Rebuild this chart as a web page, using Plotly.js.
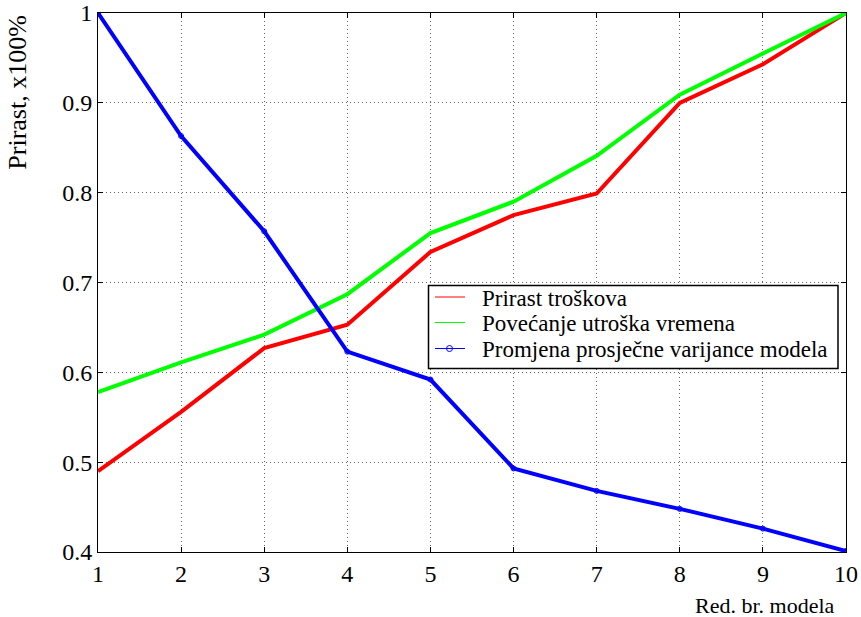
<!DOCTYPE html>
<html>
<head>
<meta charset="utf-8">
<script src="https://cdn.plot.ly/plotly-3.0.1.min.js"></script>
<style>
html,body{margin:0;padding:0;background:#fff;}
#chart{width:861px;height:617px;}
#chart text{font-family:'Liberation Serif', serif !important;}
</style>
</head>
<body>
<div id="chart"></div>
<script>
const modelNo = [1, 2, 3, 4, 5, 6, 7, 8, 9, 10];
const prirastTroskova = [0.490, 0.556, 0.627, 0.653, 0.734, 0.775, 0.799, 0.900, 0.943, 1.000];
const povecanjeUtroska = [0.578, 0.611, 0.642, 0.687, 0.755, 0.790, 0.841, 0.909, 0.955, 1.000];
const promjenaVarijance = [1.000, 0.863, 0.757, 0.623, 0.592, 0.493, 0.468, 0.448, 0.426, 0.401];
const seriesNames = ["Prirast troškova", "Povećanje utroška vremena", "Promjena prosječne varijance modela"];
const seriesColors = ["#ff0000", "#00ff00", "#0000ff"];
const yTicks = [0.4, 0.5, 0.6, 0.7, 0.8, 0.9, 1];
const yTickText = ["0.4", "0.5", "0.6", "0.7", "0.8", "0.9", "1"];

const font = "Liberation Serif";
const traces = [
  {x: modelNo, y: prirastTroskova, name: seriesNames[0], mode: "lines", line: {color: seriesColors[0], width: 4}, showlegend: false, hoverinfo: "skip"},
  {x: modelNo, y: povecanjeUtroska, name: seriesNames[1], mode: "lines", line: {color: seriesColors[1], width: 4}, showlegend: false, hoverinfo: "skip"},
  {x: modelNo, y: promjenaVarijance, name: seriesNames[2], mode: "lines+markers", line: {color: seriesColors[2], width: 4},
   marker: {symbol: "circle-open", size: 5, color: seriesColors[2], line: {width: 1}}, showlegend: false, hoverinfo: "skip"}
];

// Legend box drawn in paper coordinates (plot area: 748 x 539 px)
const px = v => (v - 98) / 748;
const py = v => (552 - v) / 539;
const rowY = [297, 322.5, 348.5];
const shapes = [
  {type: "rect", xref: "paper", yref: "paper", x0: px(428.5), x1: px(838), y0: py(368.5), y1: py(285.5),
   fillcolor: "#fff", line: {color: "#000", width: 1.5}, layer: "above"}
];
const annotations = [
  {text: "Prirast, x100%", xref: "paper", yref: "paper", x: -0.108, y: 1.0, xanchor: "center", yanchor: "top",
   textangle: -90, showarrow: false, font: {family: font, size: 26}},
  {text: "Red. br. modela", xref: "paper", yref: "paper", x: 0.988, y: -0.072, xanchor: "right", yanchor: "top",
   showarrow: false, font: {family: font, size: 22}}
];
seriesNames.forEach((name, i) => {
  shapes.push({type: "line", xref: "paper", yref: "paper", x0: px(435), x1: px(465), y0: py(rowY[i]), y1: py(rowY[i]),
    line: {color: seriesColors[i], width: 1}, layer: "above"});
  annotations.push({text: name, xref: "paper", yref: "paper", x: px(480), y: py(rowY[i] + 1), xanchor: "left", yanchor: "middle",
    showarrow: false, font: {family: font, size: 23}});
});
shapes.push({type: "circle", xref: "paper", yref: "paper", x0: px(446.5), x1: px(452.5), y0: py(rowY[2] + 3), y1: py(rowY[2] - 3),
  line: {color: seriesColors[2], width: 1}, fillcolor: "rgba(0,0,0,0)", layer: "above"});

const layout = {
  width: 861, height: 617,
  margin: {l: 98, r: 15, t: 13, b: 65},
  paper_bgcolor: "#fff", plot_bgcolor: "#fff",
  font: {family: font, size: 24, color: "#000"},
  showlegend: false,
  xaxis: {
    range: [1, 10], tickvals: modelNo, ticktext: modelNo.map(String),
    showgrid: true, gridcolor: "rgba(0,0,0,0.6)", griddash: "1px,3px", gridwidth: 1,
    showline: true, mirror: "ticks", linecolor: "#000", linewidth: 1,
    ticks: "inside", ticklen: 5, tickcolor: "#000", zeroline: false,
    ticklabeloverflow: "allow",
    tickfont: {family: font, size: 24, color: "#000"}
  },
  yaxis: {
    range: [0.4, 1], tickvals: yTicks, ticktext: yTickText,
    showgrid: true, gridcolor: "rgba(0,0,0,0.6)", griddash: "1px,3px", gridwidth: 1,
    showline: true, mirror: "ticks", linecolor: "#000", linewidth: 1,
    ticks: "inside", ticklen: 5, tickcolor: "#000", zeroline: false,
    ticklabeloverflow: "allow",
    tickfont: {family: font, size: 24, color: "#000"}
  },
  shapes: shapes,
  annotations: annotations
};

Plotly.newPlot("chart", traces, layout, {displayModeBar: false, staticPlot: true});
</script>
</body>
</html>
